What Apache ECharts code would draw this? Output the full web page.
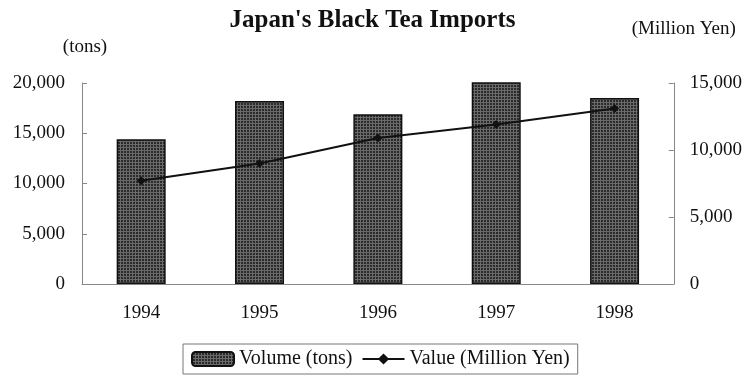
<!DOCTYPE html>
<html>
<head>
<meta charset="utf-8">
<script src="https://cdn.jsdelivr.net/npm/echarts@6/dist/echarts.min.js"></script>
<style>html,body{margin:0;padding:0;background:#fff}#c{width:745px;height:385px}</style>
</head>
<body>
<div id="c"></div>
<script>
var years = ['1994', '1995', '1996', '1997', '1998'];
var volumeTons = [14400, 18200, 16900, 20100, 18500];
var valueMillionYen = [7700, 9000, 10900, 11900, 13100];
var leftTicks = [0, 5000, 10000, 15000, 20000];
var rightTicks = [0, 5000, 10000, 15000];

var FONT = '"Liberation Serif", "Times New Roman", serif';
function fmt(v){ return v === 0 ? '0' : v.toLocaleString('en-US'); }

var pc = document.createElement('canvas');
pc.width = 3; pc.height = 3;
var px = pc.getContext('2d');
px.fillStyle = '#2b2b2b'; px.fillRect(0,0,3,3);
px.fillStyle = '#6a6a6a'; px.fillRect(0,0,3,1); px.fillRect(0,0,1,3);

var chart = echarts.init(document.getElementById('c'), null, {renderer:'canvas'});
chart.setOption({
  animation: false,
  backgroundColor: '#fff',
  title: {
    text: "Japan's Black Tea Imports",
    left: 'center', top: 3,
    textStyle: {fontFamily: FONT, fontSize: 25, fontWeight: 'bold', color: '#111'}
  },
  legend: {
    left: 183, top: 344,
    data: ['Volume (tons)', 'Value (Million Yen)'],
    itemWidth: 42, itemHeight: 14, itemGap: 9,
    borderColor: '#777', borderWidth: 1, padding: [5, 8, 5, 8],
    textStyle: {fontFamily: FONT, fontSize: 20, color: '#111'}
  },
  grid: {left: 82, right: 68, top: 83, bottom: 101, containLabel: false},
  xAxis: {
    type: 'category', data: years, boundaryGap: true,
    axisLine: {lineStyle: {color: '#888', width: 1}},
    axisTick: {inside: true, length: 4, lineStyle: {color: '#999'}},
    axisLabel: {fontFamily: FONT, fontSize: 19, color: '#111', margin: 20}
  },
  yAxis: [{
    type: 'value', min: 0, max: 20000, interval: 5000, position: 'left',
    name: '(tons)', nameLocation: 'end', nameGap: 26,
    nameTextStyle: {fontFamily: FONT, fontSize: 19, color: '#111', padding: [0, 0, 0, 6]},
    axisLine: {show: true, lineStyle: {color: '#888', width: 1}},
    axisTick: {show: true, inside: true, length: 5, lineStyle: {color: '#888'}},
    splitLine: {show: false},
    axisLabel: {fontFamily: FONT, fontSize: 19, color: '#111', margin: 17, formatter: fmt}
  }, {
    type: 'value', min: 0, max: 15000, interval: 5000, position: 'right',
    name: '(Million Yen)', nameLocation: 'end', nameGap: 44,
    nameTextStyle: {fontFamily: FONT, fontSize: 19, color: '#111', padding: [0, 0, 0, 20]},
    axisLine: {show: true, lineStyle: {color: '#888', width: 1}},
    axisTick: {show: true, inside: true, length: 5, lineStyle: {color: '#888'}},
    splitLine: {show: false},
    axisLabel: {fontFamily: FONT, fontSize: 19, color: '#111', margin: 16, formatter: fmt}
  }],
  series: [{
    name: 'Volume (tons)', type: 'bar', yAxisIndex: 0, data: volumeTons,
    barWidth: 49,
    itemStyle: {color: {image: pc, repeat: 'repeat'}, borderColor: '#111', borderWidth: 1.5}
  }, {
    name: 'Value (Million Yen)', type: 'line', yAxisIndex: 1, data: valueMillionYen,
    symbol: 'diamond', symbolSize: 9,
    lineStyle: {color: '#111', width: 2},
    itemStyle: {color: '#111'}
  }]
});
</script>
</body>
</html>
